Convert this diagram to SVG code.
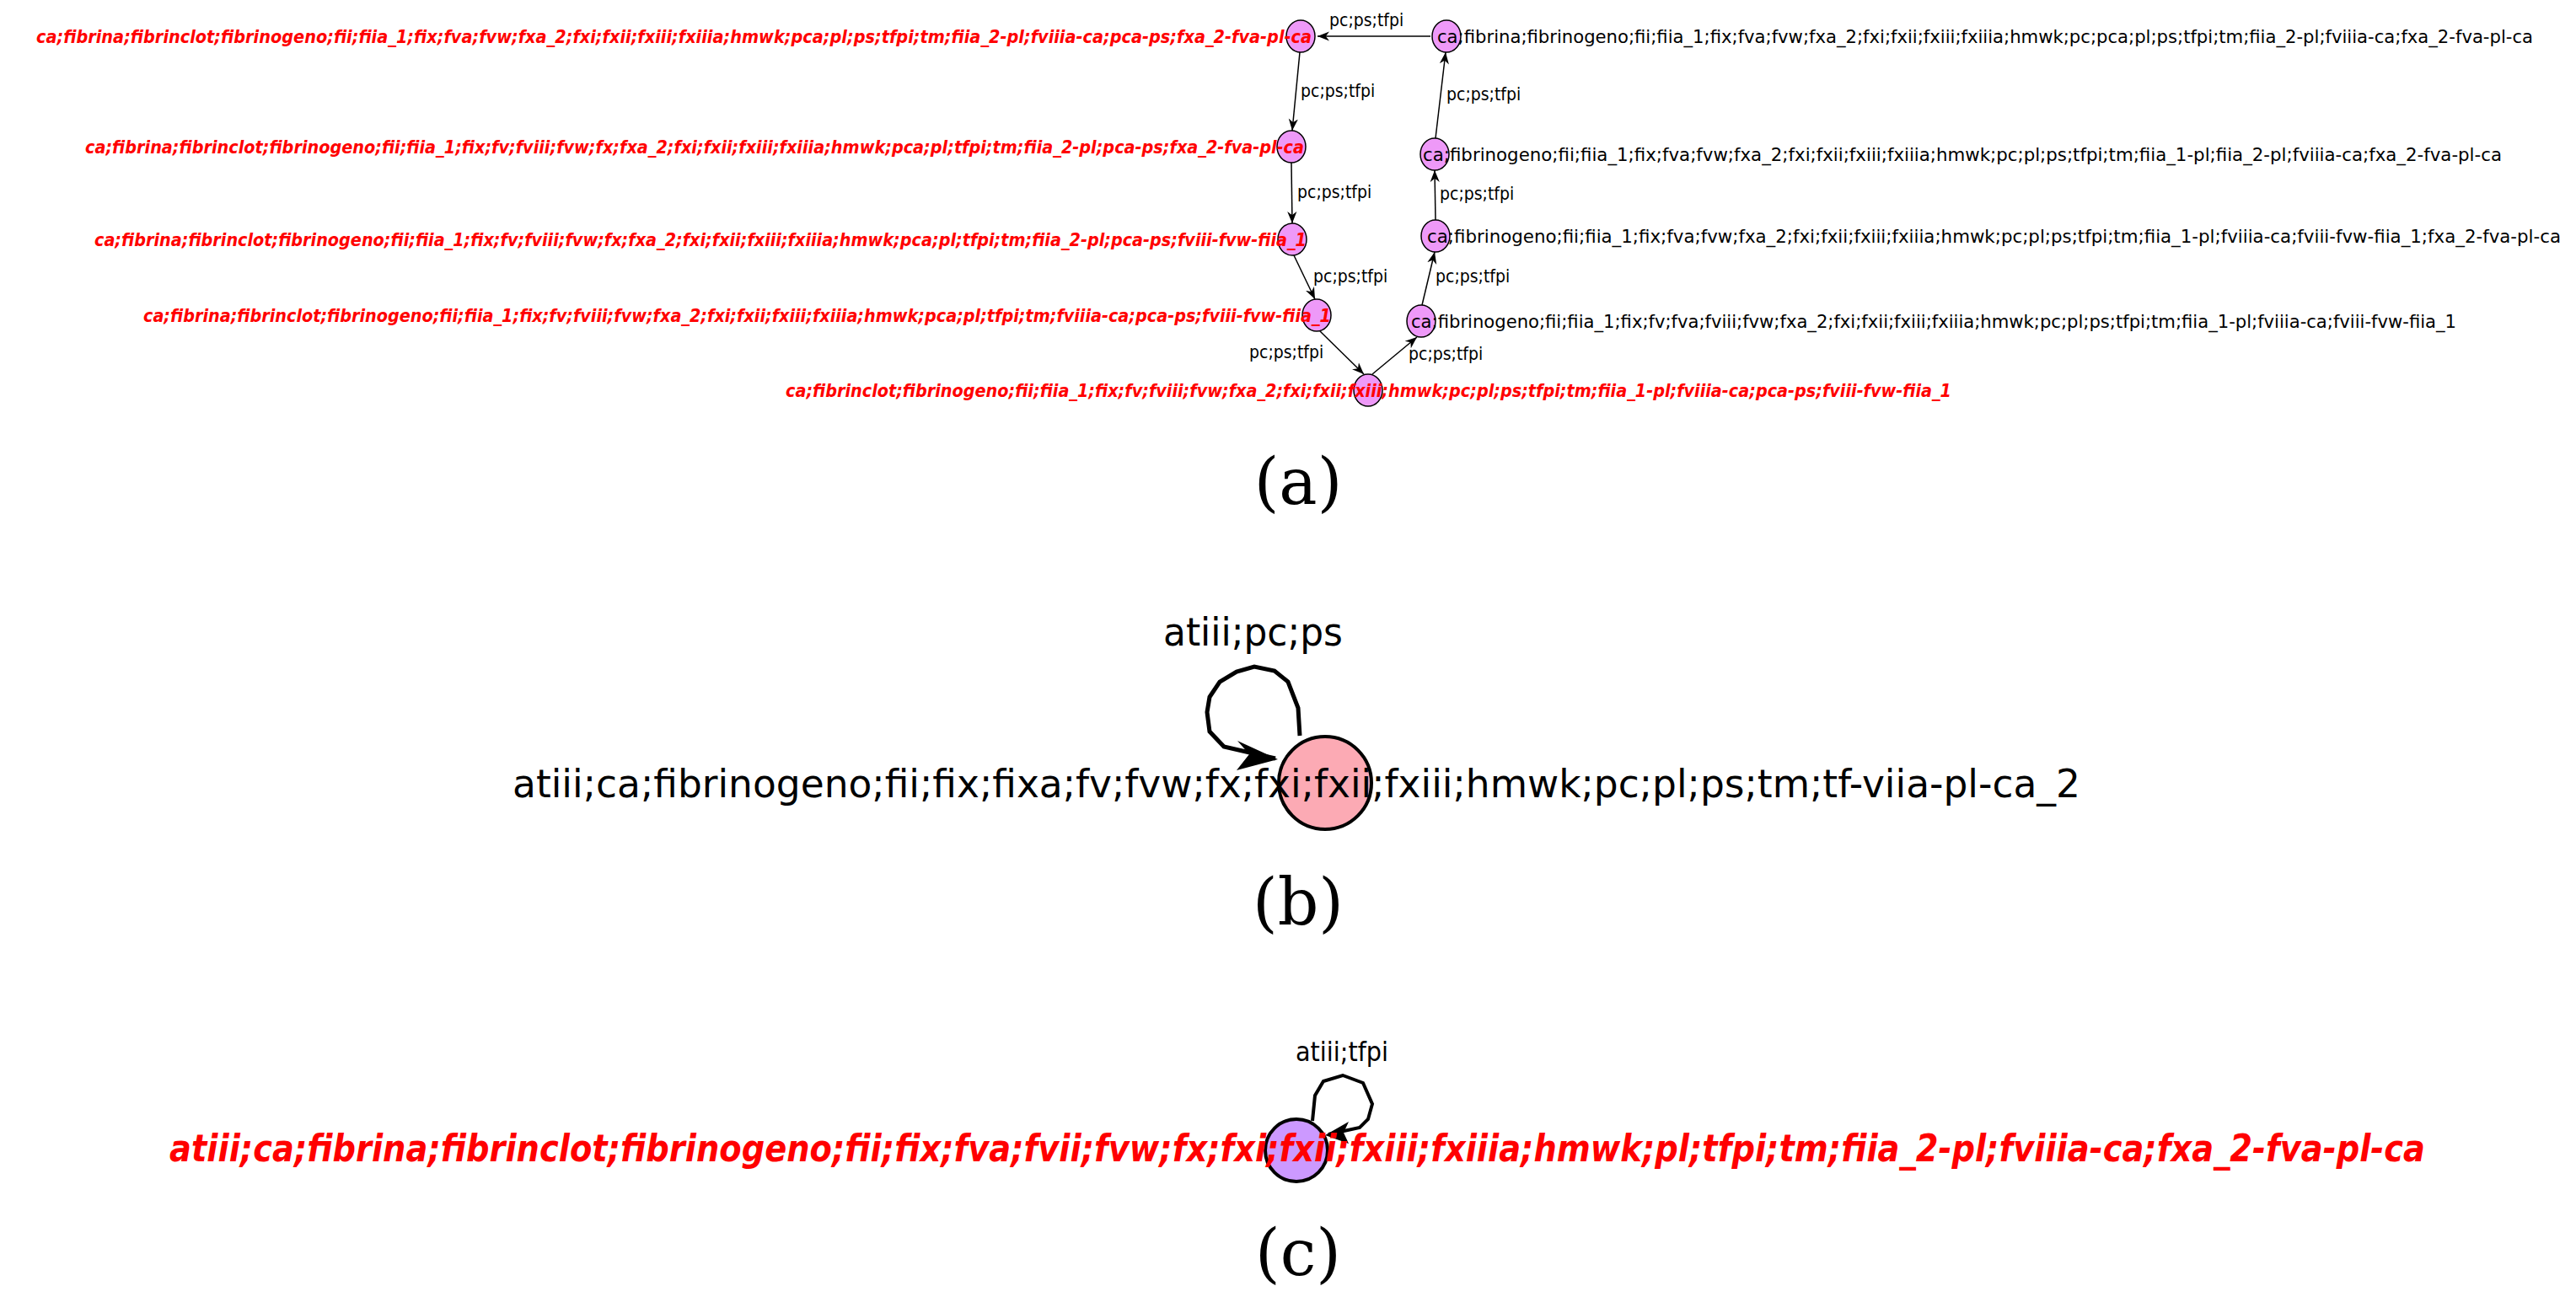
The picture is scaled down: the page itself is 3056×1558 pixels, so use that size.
<svg xmlns="http://www.w3.org/2000/svg" width="3056" height="1558" viewBox="0 0 3056 1558">
<style>
.bg{fill:#fff}
.na{fill:#ee99f8;stroke:#000;stroke-width:1.5}
.rl{font-family:"DejaVu Sans Condensed","DejaVu Sans",sans-serif;font-weight:bold;font-style:italic;font-size:22px;fill:#ff0000}
.bl{font-family:"DejaVu Sans Condensed","DejaVu Sans",sans-serif;font-size:22px;fill:#000}
.el{font-family:"DejaVu Sans Condensed","DejaVu Sans",sans-serif;font-size:21px;fill:#000}
.e{stroke:#000;stroke-width:1.5;fill:none}
.cap{font-family:"DejaVu Serif","Liberation Serif",serif;font-size:76px;fill:#000;text-anchor:middle}
.big{font-family:"DejaVu Sans","Liberation Sans",sans-serif;font-size:47px;fill:#000}
.bigr{font-family:"DejaVu Sans","Liberation Sans",sans-serif;font-size:44px;font-weight:bold;font-style:italic;fill:#ff0000}
</style>
<defs>
<marker id="ah" viewBox="0 0 10 10" refX="10" refY="5" markerWidth="14" markerHeight="14" markerUnits="userSpaceOnUse" orient="auto"><path d="M0,1 L10,5 L0,9 L3,5 z" fill="#000"/></marker>
</defs>
<rect class="bg" width="3056" height="1558"/>
<g id="connectors">
<line class="e" x1="1697" y1="43" x2="1563" y2="43" marker-end="url(#ah)"/>
<line class="e" x1="1542" y1="62" x2="1533" y2="155" marker-end="url(#ah)"/>
<line class="e" x1="1532" y1="193" x2="1533" y2="265" marker-end="url(#ah)"/>
<line class="e" x1="1535" y1="303" x2="1560" y2="355" marker-end="url(#ah)"/>
<line class="e" x1="1566" y1="393" x2="1618" y2="444" marker-end="url(#ah)"/>
<line class="e" x1="1628" y1="444" x2="1681" y2="400" marker-end="url(#ah)"/>
<line class="e" x1="1687" y1="362" x2="1702" y2="299" marker-end="url(#ah)"/>
<line class="e" x1="1703" y1="261" x2="1702" y2="202" marker-end="url(#ah)"/>
<line class="e" x1="1703" y1="164" x2="1715" y2="62" marker-end="url(#ah)"/>
<text class="el" x="1577" y="31">pc;ps;tfpi</text>
<text class="el" x="1543" y="115">pc;ps;tfpi</text>
<text class="el" x="1539" y="235">pc;ps;tfpi</text>
<text class="el" x="1558" y="335">pc;ps;tfpi</text>
<text class="el" x="1482" y="425">pc;ps;tfpi</text>
<text class="el" x="1671" y="427">pc;ps;tfpi</text>
<text class="el" x="1703" y="335">pc;ps;tfpi</text>
<text class="el" x="1708" y="237">pc;ps;tfpi</text>
<text class="el" x="1716" y="119">pc;ps;tfpi</text>
<path d="M1542,873 L1540,840 L1528,809 L1512,796 L1488,791 L1467,797 L1447,809 L1435,827 L1432,845 L1435,868 L1452,886 L1513,900" stroke="#000" stroke-width="5" fill="none"/>
<path d="M1516,901 L1468,879 L1482,895 L1467,914 z" fill="#000"/>
<text class="big" x="1380" y="766" textLength="213" lengthAdjust="spacingAndGlyphs">atiii;pc;ps</text>
<path d="M1557,1330 L1560,1300 L1570,1283 L1593,1276 L1617,1285 L1628,1310 L1623,1328 L1613,1338 L1576,1346" stroke="#000" stroke-width="4" fill="none"/>
<path d="M1572,1347 L1600,1331 L1594,1344 L1600,1357 z" fill="#000"/>
<text class="big" style="font-size:32px" x="1537" y="1259" textLength="110" lengthAdjust="spacingAndGlyphs">atiii;tfpi</text>
</g>
<g id="n_a1"><ellipse class="na" cx="1543" cy="43" rx="17" ry="19"/><text class="rl" x="43" y="51" textLength="1513" lengthAdjust="spacingAndGlyphs">ca;fibrina;fibrinclot;fibrinogeno;fii;fiia_1;fix;fva;fvw;fxa_2;fxi;fxii;fxiii;fxiiia;hmwk;pca;pl;ps;tfpi;tm;fiia_2-pl;fviiia-ca;pca-ps;fxa_2-fva-pl-ca</text></g>
<g id="n_a2"><ellipse class="na" cx="1532" cy="174" rx="17" ry="19"/><text class="rl" x="101" y="182" textLength="1446" lengthAdjust="spacingAndGlyphs">ca;fibrina;fibrinclot;fibrinogeno;fii;fiia_1;fix;fv;fviii;fvw;fx;fxa_2;fxi;fxii;fxiii;fxiiia;hmwk;pca;pl;tfpi;tm;fiia_2-pl;pca-ps;fxa_2-fva-pl-ca</text></g>
<g id="n_a3"><ellipse class="na" cx="1533" cy="284" rx="17" ry="19"/><text class="rl" x="112" y="292" textLength="1438" lengthAdjust="spacingAndGlyphs">ca;fibrina;fibrinclot;fibrinogeno;fii;fiia_1;fix;fv;fviii;fvw;fx;fxa_2;fxi;fxii;fxiii;fxiiia;hmwk;pca;pl;tfpi;tm;fiia_2-pl;pca-ps;fviii-fvw-fiia_1</text></g>
<g id="n_a4"><ellipse class="na" cx="1562" cy="374" rx="17" ry="19"/><text class="rl" x="170" y="382" textLength="1409" lengthAdjust="spacingAndGlyphs">ca;fibrina;fibrinclot;fibrinogeno;fii;fiia_1;fix;fv;fviii;fvw;fxa_2;fxi;fxii;fxiii;fxiiia;hmwk;pca;pl;tfpi;tm;fviiia-ca;pca-ps;fviii-fvw-fiia_1</text></g>
<g id="n_a5"><ellipse class="na" cx="1623" cy="463" rx="17" ry="19"/><text class="rl" x="932" y="471" textLength="1383" lengthAdjust="spacingAndGlyphs">ca;fibrinclot;fibrinogeno;fii;fiia_1;fix;fv;fviii;fvw;fxa_2;fxi;fxii;fxiii;hmwk;pc;pl;ps;tfpi;tm;fiia_1-pl;fviiia-ca;pca-ps;fviii-fvw-fiia_1</text></g>
<g id="n_b1"><ellipse class="na" cx="1716" cy="43" rx="17" ry="19"/><text class="bl" x="1705" y="51" textLength="1300" lengthAdjust="spacingAndGlyphs">ca;fibrina;fibrinogeno;fii;fiia_1;fix;fva;fvw;fxa_2;fxi;fxii;fxiii;fxiiia;hmwk;pc;pca;pl;ps;tfpi;tm;fiia_2-pl;fviiia-ca;fxa_2-fva-pl-ca</text></g>
<g id="n_b2"><ellipse class="na" cx="1702" cy="183" rx="17" ry="19"/><text class="bl" x="1688" y="191" textLength="1280" lengthAdjust="spacingAndGlyphs">ca;fibrinogeno;fii;fiia_1;fix;fva;fvw;fxa_2;fxi;fxii;fxiii;fxiiia;hmwk;pc;pl;ps;tfpi;tm;fiia_1-pl;fiia_2-pl;fviiia-ca;fxa_2-fva-pl-ca</text></g>
<g id="n_b3"><ellipse class="na" cx="1703" cy="280" rx="17" ry="19"/><text class="bl" x="1693" y="288" textLength="1345" lengthAdjust="spacingAndGlyphs">ca;fibrinogeno;fii;fiia_1;fix;fva;fvw;fxa_2;fxi;fxii;fxiii;fxiiia;hmwk;pc;pl;ps;tfpi;tm;fiia_1-pl;fviiia-ca;fviii-fvw-fiia_1;fxa_2-fva-pl-ca</text></g>
<g id="n_b4"><ellipse class="na" cx="1686" cy="381" rx="17" ry="19"/><text class="bl" x="1674" y="389" textLength="1240" lengthAdjust="spacingAndGlyphs">ca;fibrinogeno;fii;fiia_1;fix;fv;fva;fviii;fvw;fxa_2;fxi;fxii;fxiii;fxiiia;hmwk;pc;pl;ps;tfpi;tm;fiia_1-pl;fviiia-ca;fviii-fvw-fiia_1</text></g>
<text class="cap" x="1540" y="598">(a)</text>
<g id="n_b"><circle cx="1572" cy="929" r="55" fill="#fcaab4" stroke="#000" stroke-width="4"/><text class="big" x="608" y="946" textLength="1860" lengthAdjust="spacingAndGlyphs">atiii;ca;fibrinogeno;fii;fix;fixa;fv;fvw;fx;fxi;fxii;fxiii;hmwk;pc;pl;ps;tm;tf-viia-pl-ca_2</text></g>
<text class="cap" x="1540" y="1097">(b)</text>
<g id="n_c"><circle cx="1538" cy="1365" r="37" fill="#cc99ff" stroke="#000" stroke-width="4"/><text class="bigr" x="201" y="1378" textLength="2676" lengthAdjust="spacingAndGlyphs">atiii;ca;fibrina;fibrinclot;fibrinogeno;fii;fix;fva;fvii;fvw;fx;fxi;fxii;fxiii;fxiiia;hmwk;pl;tfpi;tm;fiia_2-pl;fviiia-ca;fxa_2-fva-pl-ca</text></g>
<text class="cap" x="1540" y="1513">(c)</text>
</svg>
